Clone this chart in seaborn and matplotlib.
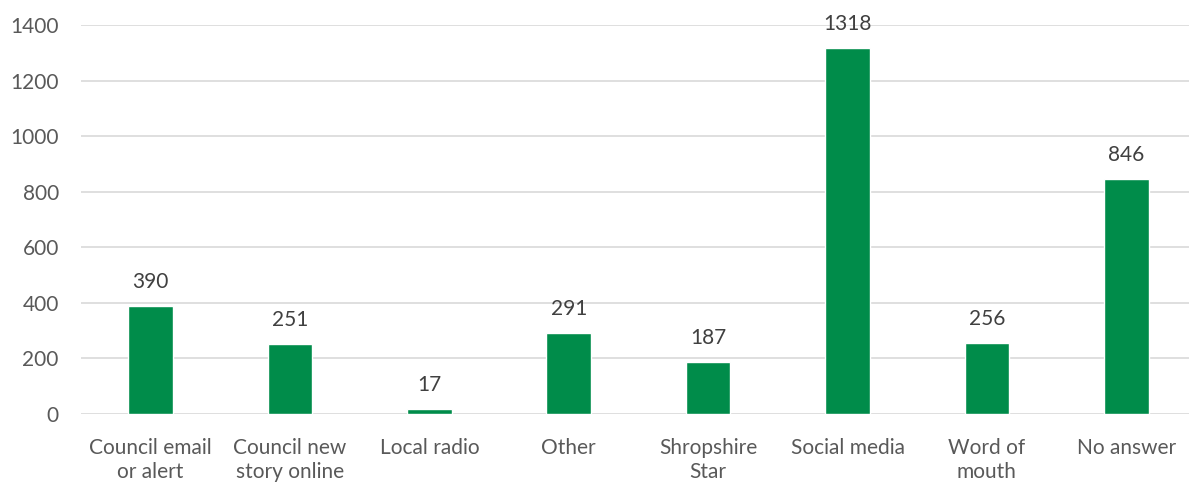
import matplotlib
matplotlib.use("Agg")
import matplotlib.pyplot as plt
import seaborn as sns
import pandas as pd

categories = ["Council email\nor alert", "Council new\nstory online", "Local radio", "Other",
              "Shropshire\nStar", "Social media", "Word of\nmouth", "No answer"]
values = [390, 251, 17, 291, 187, 1318, 256, 846]
yticks = [0, 200, 400, 600, 800, 1000, 1200, 1400]

sns.set_theme(style="white")
plt.rcParams['font.family'] = ['Lato', 'DejaVu Sans']

df = pd.DataFrame({"cat": categories, "val": values})
fig = plt.figure(figsize=(11.89, 4.82), dpi=100)
ax = fig.add_axes([81/1189, 1-414/482, 1-81/1189, (414-25)/482])
sns.barplot(data=df, x="cat", y="val", color="#008C4A", saturation=1, width=0.32, ax=ax)
ax.set_ylim(0, 1400)
ax.set_yticks(yticks)
ax.set_xlim(-0.5, 7.45)
ax.grid(axis="y", color="#D9D9D9", linewidth=1.2)
ax.set_axisbelow(True)
for s in ax.spines.values():
    s.set_visible(False)
ax.set_xlabel("")
ax.set_ylabel("")
ax.tick_params(axis="both", length=0, labelsize=15, labelcolor="#595959")
ax.tick_params(axis="y", pad=16)
ax.tick_params(axis="x", pad=17)
for lbl in ax.get_xticklabels():
    lbl.set_linespacing(1.25)
ax.bar_label(ax.containers[0], padding=10, fontsize=15, color="#404040")
fig.savefig("out.png", dpi=100)
